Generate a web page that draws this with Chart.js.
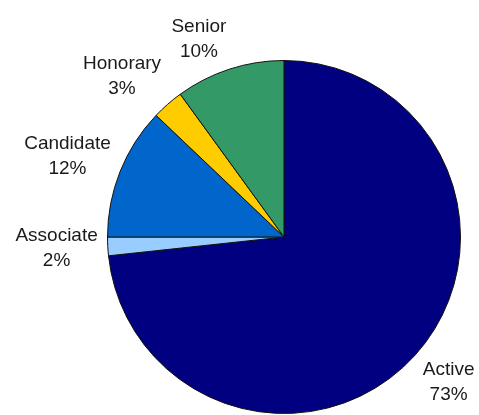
<!DOCTYPE html>
<html>
<head>
<meta charset="utf-8">
<script src="https://cdn.jsdelivr.net/npm/chart.js@4"></script>
<style>
  html, body { margin: 0; padding: 0; background: #fff; overflow: hidden; }
  #wrap { width: 479px; height: 415px; }
</style>
</head>
<body>
<div id="wrap"><canvas id="pie-chart"></canvas></div>
<script>

var categories = ["Active", "Associate", "Candidate", "Honorary", "Senior"];
var shares = [73.3, 1.7, 12.1, 2.9, 10.0];
var colors = ["#000080", "#99CCFF", "#0066CC", "#FFCC00", "#339966"];

// draws "Name / NN%" outside each slice; the text box is pushed away from
// the pie edge at the slice's middle angle, like an "outside end" label
var outsideLabels = {
	id: "outsideLabels",
	afterDatasetsDraw: function(chart){
		var ctx = chart.ctx;
		var meta = chart.getDatasetMeta(0);
		var data = chart.data.datasets[0].data;
		var total = data.reduce(function(a, b){ return a + b; }, 0);
		var lineGap = 25;

		ctx.save();
		ctx.font = "19px Arial, 'Liberation Sans', sans-serif";
		ctx.fillStyle = "#1a1a1a";
		ctx.textAlign = "center";
		ctx.textBaseline = "middle";

		meta.data.forEach(function(arc, i){
			var mid = (arc.startAngle + arc.endAngle) / 2;
			var dx = Math.cos(mid), dy = Math.sin(mid);
			var name = chart.data.labels[i];
			var pct = Math.round(data[i] / total * 100) + "%";
			var w = Math.max(ctx.measureText(name).width, ctx.measureText(pct).width);
			var h = lineGap + 16;

			var ax = arc.x + dx * (arc.outerRadius + 10);
			var ay = arc.y + dy * (arc.outerRadius + 10);
			var vy = Math.max(-1, Math.min(1, dy * 1.5));
			var x = ax + (dx < 0 ? -1 : 1) * w / 2;
			var y = ay + vy * h / 2;

			ctx.fillText(name, x, y - lineGap / 2);
			ctx.fillText(pct, x, y + lineGap / 2);
		});
		ctx.restore();
	}
};

var ctx = document.getElementById("pie-chart").getContext("2d");

var myPieChart = new Chart(ctx, {
	type: "pie",
	data: {
		labels: categories,
		datasets: [{
			data: shares,
			backgroundColor: colors,
			borderColor: "#111",
			borderWidth: 1
		}]
	},
	options: {
		responsive: true,
		maintainAspectRatio: false,
		animation: false,
		layout: {
			padding: { left: 107, top: 60, right: 18, bottom: 1 }
		},
		plugins: {
			legend: { display: false },
			tooltip: { enabled: false }
		}
	},
	plugins: [outsideLabels]
});

</script>
</body>
</html>
